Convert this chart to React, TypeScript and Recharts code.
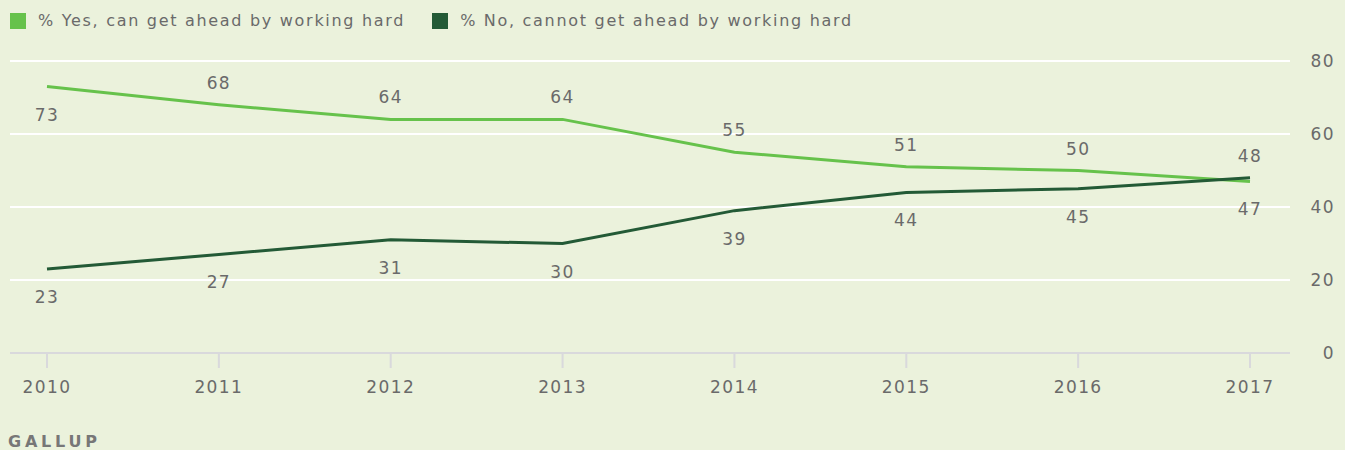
import { LineChart, Line, XAxis, YAxis, CartesianGrid } from "recharts";

const years = ["2010", "2011", "2012", "2013", "2014", "2015", "2016", "2017"];
const yesValues = [73, 68, 64, 64, 55, 51, 50, 47];
const noValues = [23, 27, 31, 30, 39, 44, 45, 48];
const yTicks = [0, 20, 40, 60, 80];

const yesName = "% Yes, can get ahead by working hard";
const noName = "% No, cannot get ahead by working hard";

// which labels sit below the point (true) or above (false)
const yesBelow = [true, false, false, false, false, false, false, true];
const noBelow = [true, true, true, true, true, true, true, false];

const data = years.map((year, i) => ({ year, yes: yesValues[i], no: noValues[i] }));

const BG = "#ebf2dc";
const LIGHT = "#66c24b";
const DARK = "#235a36";
const TEXT = "#6a6a6a";
const FONT = "DejaVu Sans";

const textStyle = { fontFamily: FONT, fontSize: 17, letterSpacing: 1.4, fill: TEXT };

function makeLabel(below: boolean[]) {
  return (props: any) => {
    const { x, y, value, index } = props;
    const dy = below[index] ? 28 : -22;
    return (
      <text x={x} y={y + dy} textAnchor="middle" dominantBaseline="central" style={textStyle}>
        {value}
      </text>
    );
  };
}

function YTick(props: any) {
  const { x, y, payload } = props;
  return (
    <text x={x} y={y} textAnchor="end" dominantBaseline="central" style={textStyle}>
      {payload.value}
    </text>
  );
}

function XTick(props: any) {
  const { x, y, payload } = props;
  return (
    <text x={x} y={y} textAnchor="middle" dominantBaseline="hanging" style={textStyle}>
      {payload.value}
    </text>
  );
}

export default function App() {
  return (
    <div style={{ position: "absolute", left: 0, top: 0, width: 1345, height: 450, background: BG, fontFamily: FONT }}>
      <div style={{ position: "absolute", left: 10, top: 11, display: "flex", alignItems: "center", fontSize: 16, letterSpacing: 1.7, color: TEXT }}>
        <span style={{ width: 16, height: 16, background: LIGHT, display: "inline-block", marginRight: 12 }} />
        <span>{yesName}</span>
        <span style={{ width: 16, height: 16, background: DARK, display: "inline-block", marginLeft: 27, marginRight: 12 }} />
        <span>{noName}</span>
      </div>
      <LineChart width={1345} height={450} data={data} margin={{ top: 61, right: 0, left: 10, bottom: 52 }}>
        <CartesianGrid horizontal vertical={false} stroke="#ffffff" strokeWidth={2} />
        <XAxis
          dataKey="year"
          height={45}
          padding={{ left: 37, right: 40 }}
          axisLine={{ stroke: "#d9d9dc", strokeWidth: 2 }}
          tickLine={{ stroke: "#d9d9dc", strokeWidth: 2 }}
          tickSize={15}
          tickMargin={12}
          tick={<XTick />}
        />
        <YAxis
          orientation="right"
          width={55}
          domain={[0, 80]}
          ticks={yTicks}
          axisLine={false}
          tickLine={false}
          tickSize={0}
          tickMargin={45}
          tick={<YTick />}
        />
        <Line
          type="linear"
          dataKey="yes"
          name={yesName}
          stroke={LIGHT}
          strokeWidth={3}
          dot={false}
          label={makeLabel(yesBelow)}
          isAnimationActive={false}
        />
        <Line
          type="linear"
          dataKey="no"
          name={noName}
          stroke={DARK}
          strokeWidth={3}
          dot={false}
          label={makeLabel(noBelow)}
          isAnimationActive={false}
        />
      </LineChart>
      <div style={{ position: "absolute", left: 8, top: 432, fontSize: 16, fontWeight: "bold", letterSpacing: 3.8, color: "#777777" }}>
        GALLUP
      </div>
    </div>
  );
}
